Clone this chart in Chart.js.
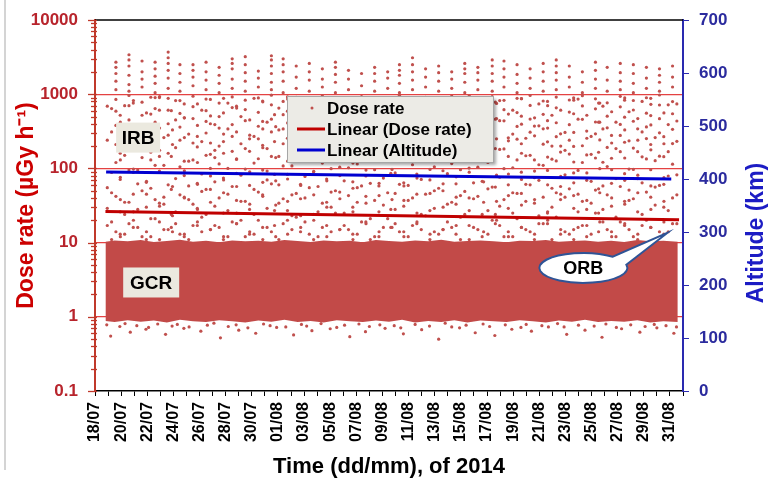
<!DOCTYPE html>
<html>
<head>
<meta charset="utf-8">
<script src="https://cdn.jsdelivr.net/npm/chart.js@4.4.1/dist/chart.umd.min.js"></script>
<style>
  body { margin: 0; background: #fff; }
  #wrap { position: relative; width: 772px; height: 484px; }
  #frame { position: absolute; left: 4px; top: 0; width: 2px; height: 470px; background: #d4d4d4; }
</style>
</head>
<body>
<div id="wrap">
  <div id="frame"></div>
  <canvas id="doseChart" width="772" height="484"></canvas>
</div>
<script>
// x axis: days since 18/07/2014 00:00
const dateLabels = ['18/07','20/07','22/07','24/07','26/07','28/07','30/07','01/08','03/08','05/08','07/08','09/08',
  '11/08','13/08','15/08','17/08','19/08','21/08','23/08','25/08','27/08','29/08','31/08'];
const doseTicks = ['0.1', '1', '10', '100', '1000', '10000'];
const altTitle = 'Altitude (km)';

// trend lines
const doseTrendDays = [0.8, 44.7];
const doseTrend = [26.3, 20.3];
const altTrendDays = [0.85, 44.1];
const altTrend = [413, 400];

// GCR band (dense dose rate points), lower and upper edges
const bandDays = [0.8, 1.5, 2.5, 3.5, 4.5, 5.5, 6.5, 7.5, 8.5, 9.5, 10.5, 11.5, 12.5, 13.5, 14.5, 15.5, 16.5, 17.5, 18.5,
  19.5, 20.5, 21.5, 22.5, 23.5, 24.5, 25.5, 26.5, 27.5, 28.5, 29.5, 30.5, 31.5, 32.5, 33.5, 34.5, 35.5, 36.5, 37.5,
  38.5, 39.5, 40.5, 41.5, 42.5, 43.5, 44.6];
const bandTop = [10.3, 10.7, 10.4, 10.8, 10.2, 10.5, 10.9, 10.3, 10.6, 10.1, 10.7, 10.4, 10.6, 10.3, 10.8, 10.5, 10.2,
  10.7, 10.4, 10.6, 10.1, 10.8, 10.5, 10.3, 10.7, 10.4, 10.9, 10.3, 10.5, 10.7, 10.4, 10.1, 10.6, 10.5, 10.8, 10.3,
  10.5, 10.7, 10.3, 10.6, 10.2, 10.8, 10.4, 10.6, 10.3];
const bandBottom = [0.88, 0.85, 0.9, 0.86, 0.89, 0.84, 0.91, 0.87, 0.85, 0.9, 0.87, 0.84, 0.89, 0.86, 0.91, 0.85, 0.88,
  0.84, 0.9, 0.87, 0.85, 0.89, 0.86, 0.91, 0.84, 0.88, 0.85, 0.9, 0.84, 0.89, 0.87, 0.85, 0.9, 0.87, 0.84, 0.89, 0.86,
  0.91, 0.85, 0.88, 0.86, 0.9, 0.84, 0.87, 0.85];

// scattered points just under the band and further below it
const fringeDays = [0.9, 1.9, 2.3, 3.2, 4.1, 4.8, 5.9, 6.3, 7.2, 8.6, 9.1, 10.2, 10.8, 11.7, 12.9, 13.4, 14.6, 15.8,
  16.2, 17.3, 18.5, 19.1, 20.2, 21.0, 21.8, 22.9, 23.4, 24.5, 25.6, 26.8, 27.3, 28.4, 29.7, 30.2, 31.4, 32.6, 33.0,
  34.2, 35.4, 35.9, 37.0, 38.2, 39.1, 39.9, 41.0, 42.1, 42.8, 43.7, 44.5];
const fringeVals = [0.78, 0.74, 0.81, 0.76, 0.72, 0.8, 0.75, 0.79, 0.73, 0.77, 0.82, 0.74, 0.78, 0.71, 0.8, 0.76, 0.73,
  0.79, 0.75, 0.81, 0.72, 0.77, 0.8, 0.74, 0.78, 0.76, 0.71, 0.79, 0.75, 0.82, 0.73, 0.77, 0.8, 0.74, 0.78, 0.72, 0.79,
  0.76, 0.81, 0.73, 0.77, 0.75, 0.8, 0.72, 0.78, 0.74, 0.79, 0.76, 0.73];
const lowDays = [1.2, 2.7, 3.9, 5.4, 6.8, 8.1, 9.6, 11.0, 12.3, 13.9, 15.2, 16.6, 18.0, 19.5, 20.7, 22.2, 23.6, 25.0,
  26.3, 27.9, 29.1, 30.6, 31.9, 33.4, 34.7, 36.1, 37.5, 38.8, 40.3, 41.7, 43.0, 44.3];
const lowVals = [0.55, 0.62, 0.68, 0.58, 0.7, 0.64, 0.52, 0.66, 0.6, 0.72, 0.57, 0.65, 0.69, 0.54, 0.63, 0.7, 0.59, 0.67,
  0.5, 0.71, 0.61, 0.56, 0.68, 0.64, 0.73, 0.58, 0.66, 0.53, 0.69, 0.62, 0.71, 0.6];

// orbit passes (IRB streaks): one per day
const peakDays = [1.6, 2.6, 3.6, 4.6, 5.6, 6.5, 7.5, 8.5, 9.5, 10.5, 11.5, 12.5, 13.5, 14.4, 15.4, 16.4, 17.4, 18.4,
  19.4, 20.4, 21.4, 22.4, 23.3, 24.3, 25.3, 26.3, 27.3, 28.3, 29.3, 30.4, 31.3, 32.3, 33.3, 34.3, 35.3, 36.3, 37.3,
  38.3, 39.2, 40.2, 41.2, 42.2, 43.2, 44.2];
const peakVals = [
  [1150, 1500, 1900, 2300, 2700], [1100, 1350, 1800, 2400, 2900, 3400], [1250, 1600, 2000, 2800],
  [1050, 1400, 1750, 2200, 2700], [1200, 1650, 2100, 2600, 3100, 3700], [1100, 1450, 1900, 2500],
  [1300, 1700, 2100, 2500], [1150, 1550, 2000, 2700], [1050, 1400, 1800, 2300], [1200, 1600, 2200, 2600, 3000],
  [1100, 1500, 1950, 2500, 3200], [1250, 1650, 2050], [1150, 1450, 1900, 2400, 2900, 3300],
  [1050, 1500, 2000, 2500, 3000], [1200, 1700, 2400], [1100, 1550, 2000, 2600], [1250, 1600, 2200],
  [1050, 1450, 1850, 2300, 2700], [1150, 1600, 2100], [1300, 1900], [1100, 1500, 1900, 2300], [1200, 1650, 2000],
  [1050, 1400, 1800, 2100, 2500], [1150, 1550, 2000, 2500, 3100], [1250, 1700, 2200], [1100, 1500, 1950, 2400],
  [1200, 1600, 2000], [1050, 1450, 1900, 2200, 2600], [1150, 1550, 1950, 2300], [1100, 1500, 1900, 2400, 2900],
  [1250, 1700, 2200, 2800], [1050, 1400, 1850, 2500], [1200, 1650, 2200], [1100, 1500, 2000, 2600],
  [1150, 1550, 1950, 2400, 2900], [1250, 1700, 2400], [1050, 1450, 2000], [1200, 1600, 2100, 2700],
  [1100, 1550, 2300], [1150, 1500, 1950, 2600], [1050, 1400, 1900, 2500], [1200, 1650, 2300],
  [1100, 1450, 1800, 2200], [1250, 1700, 2400]
];
// 10 - 1000 uGy/h points in four columns around each pass
const midD = [
  [17, 29, 55, 240, 690], [12, 38, 76, 130, 420], [20, 26, 98, 310, 820], [14, 45, 67, 210, 560],
  [11, 31, 88, 175, 350, 930], [16, 24, 52, 145, 600], [13, 40, 93, 260, 480], [19, 28, 61, 120, 380, 740],
  [15, 35, 79, 220, 510], [12, 47, 70, 160, 290, 880], [18, 25, 57, 135, 650], [14, 33, 90, 280, 450],
  [11, 42, 65, 190, 340, 790], [17, 27, 83, 230, 530], [13, 36, 72, 125, 410, 860], [16, 23, 59, 170, 300],
  [20, 44, 91, 250, 620], [12, 30, 68, 140, 380, 710], [15, 39, 80, 205, 470], [11, 26, 54, 118, 330, 900],
  [18, 34, 95, 270, 550], [14, 43, 63, 155, 360, 770], [16, 28, 86, 225, 490], [12, 37, 58, 132, 315, 840],
  [19, 25, 74, 195, 640], [13, 46, 97, 265, 430], [15, 30, 62, 150, 370, 720], [17, 41, 77, 210, 500],
  [11, 27, 89, 245, 590, 950], [14, 35, 66, 128, 320], [18, 24, 56, 185, 460, 780], [12, 43, 84, 235, 540],
  [16, 32, 71, 160, 395, 870], [13, 38, 92, 275, 480], [20, 26, 60, 142, 350, 700], [15, 45, 78, 200, 610],
  [11, 29, 64, 122, 305, 830], [17, 37, 87, 255, 520], [14, 25, 53, 165, 420, 760], [12, 40, 96, 220, 580],
  [18, 33, 69, 138, 330, 890], [13, 47, 81, 240, 470], [16, 28, 58, 178, 385, 730], [19, 36, 75, 215, 560]
];
const midA = [
  [11, 19, 47, 88, 310, 640], [13, 24, 35, 150, 205, 700], [16, 28, 62, 95, 380], [12, 21, 54, 130, 165, 540, 910],
  [15, 33, 41, 110, 260], [18, 26, 73, 190, 450, 820], [11, 38, 58, 125, 290], [14, 22, 49, 84, 230, 610],
  [17, 31, 66, 140, 175, 390], [12, 27, 45, 100, 340, 760], [20, 36, 81, 215, 500], [13, 24, 52, 118, 270, 880],
  [16, 29, 70, 92, 185, 420], [11, 34, 60, 145, 330, 650], [15, 23, 44, 108, 240], [19, 40, 78, 160, 470, 830],
  [12, 26, 57, 135, 210, 560], [14, 30, 48, 99, 300], [17, 25, 68, 170, 395, 720], [13, 35, 55, 115, 250],
  [11, 21, 63, 150, 360, 870], [16, 32, 74, 128, 225, 590], [18, 28, 46, 87, 280], [12, 37, 59, 142, 410, 780],
  [15, 24, 71, 165, 320], [14, 29, 50, 105, 195, 530], [19, 33, 85, 230, 480, 900], [11, 22, 43, 96, 265],
  [16, 39, 64, 138, 350, 700], [13, 27, 53, 120, 215], [17, 31, 76, 180, 440, 820], [12, 25, 47, 102, 290, 610],
  [15, 36, 61, 148, 255], [18, 23, 69, 112, 375, 740], [11, 30, 54, 133, 200, 520], [14, 41, 82, 175, 305],
  [16, 26, 45, 94, 460, 860], [13, 34, 67, 155, 270], [19, 28, 58, 121, 340, 690], [12, 22, 73, 185, 420],
  [15, 37, 51, 98, 235, 580], [17, 24, 64, 143, 310, 800], [11, 32, 56, 127, 260], [14, 27, 79, 168, 390, 720]
];
const midB = [
  [14, 42, 120, 210, 380, 590, 850], [18, 35, 95, 260, 450, 700, 960], [12, 50, 140, 230, 330, 520, 780],
  [21, 38, 110, 190, 420, 640, 900], [15, 60, 160, 280, 400, 610, 880], [13, 44, 105, 240, 360, 550, 820],
  [17, 33, 130, 220, 470, 680, 940], [24, 52, 150, 300, 430, 600, 860], [16, 40, 115, 200, 350, 500, 760],
  [19, 57, 170, 270, 390, 660, 920], [12, 36, 98, 185, 440, 620, 830], [20, 48, 135, 250, 370, 570, 890],
  [14, 62, 145, 310, 460, 720, 970], [18, 39, 108, 215, 340, 530, 800], [22, 46, 125, 265, 410, 650, 910],
  [13, 55, 155, 235, 385, 580, 840], [16, 34, 118, 205, 455, 690, 950], [25, 50, 140, 290, 425, 630, 870],
  [15, 43, 102, 195, 345, 510, 770], [19, 58, 165, 275, 395, 670, 930], [12, 37, 96, 180, 435, 615, 825],
  [21, 47, 132, 245, 365, 560, 885], [14, 61, 148, 305, 465, 710, 965], [17, 40, 112, 218, 338, 540, 805],
  [23, 45, 128, 262, 415, 645, 905], [13, 54, 158, 238, 380, 585, 845], [16, 35, 116, 208, 450, 685, 945],
  [24, 49, 142, 295, 428, 625, 875], [15, 42, 104, 198, 348, 515, 775], [20, 56, 162, 272, 398, 665, 925],
  [12, 38, 99, 183, 438, 618, 828], [21, 46, 130, 248, 368, 565, 880], [14, 60, 150, 308, 462, 705, 960],
  [18, 41, 110, 212, 342, 535, 810], [22, 47, 126, 268, 412, 655, 915], [13, 53, 156, 240, 388, 575, 835],
  [17, 36, 120, 202, 458, 695, 955], [25, 51, 138, 292, 422, 635, 865], [15, 44, 106, 192, 352, 505, 765],
  [19, 57, 168, 278, 392, 675, 935], [12, 39, 97, 188, 432, 612, 822], [20, 48, 134, 252, 362, 555, 895],
  [14, 59, 146, 302, 468, 715, 975], [18, 40, 114, 216, 336, 545, 795]
];
const midC = [
  [13, 26, 71, 160, 520], [16, 45, 88, 240, 350, 760], [11, 30, 65, 180, 290], [19, 34, 92, 145, 610, 900],
  [14, 23, 57, 210, 330], [12, 41, 80, 125, 480, 740], [17, 29, 63, 195, 270], [15, 52, 100, 155, 400, 850],
  [11, 25, 74, 230, 560], [18, 37, 86, 132, 310, 690], [13, 28, 59, 170, 250], [16, 44, 95, 205, 430, 810],
  [12, 32, 68, 140, 365], [20, 27, 83, 255, 590, 920], [14, 39, 61, 150, 280], [11, 24, 90, 190, 455, 770],
  [17, 35, 72, 135, 320], [15, 48, 104, 245, 500, 880], [13, 30, 66, 162, 275], [19, 42, 79, 220, 410, 730],
  [12, 26, 58, 128, 345], [16, 38, 97, 200, 530, 860], [14, 31, 64, 148, 262], [18, 45, 84, 235, 445, 790],
  [11, 27, 70, 175, 300], [15, 50, 93, 138, 415, 840], [13, 33, 62, 208, 285], [17, 40, 101, 158, 575, 910],
  [12, 24, 67, 185, 335], [20, 36, 81, 250, 470, 750], [14, 29, 60, 145, 258], [16, 46, 89, 215, 505, 870],
  [11, 34, 75, 130, 372], [18, 25, 94, 228, 440, 800], [13, 38, 57, 166, 292], [15, 43, 87, 198, 545, 890],
  [12, 28, 69, 152, 318], [19, 47, 99, 242, 420, 760], [14, 31, 63, 137, 278], [17, 36, 85, 225, 490, 830],
  [11, 26, 73, 168, 342], [16, 41, 96, 210, 515, 880], [13, 30, 61, 144, 268], [18, 44, 82, 232, 435, 740]
];

const doseColor = '#c0504d';
const bandColor = '#c24a48';
const fontFamily = '"Liberation Sans", Arial, sans-serif';

// collect the scattered dose rate points
const dots = [];
peakDays.forEach(function(d, i){
  peakVals[i].forEach(v => dots.push({x: d, y: v}));
  midB[i].forEach(v => dots.push({x: d, y: v}));
  midD[i].forEach(v => dots.push({x: d - 0.66, y: v}));
  midA[i].forEach(v => dots.push({x: d - 0.33, y: v}));
  midC[i].forEach(v => dots.push({x: d + 0.33, y: v}));
});
fringeDays.forEach((d, i) => dots.push({x: d, y: fringeVals[i]}));
lowDays.forEach((d, i) => dots.push({x: d, y: lowVals[i]}));

function isDecade(v){
  const e = Math.log10(v);
  return Math.abs(e - Math.round(e)) < 1e-6;
}

// tick positions at 1..9 of every decade
function logTickValues(){
  const vals = [];
  for(let e = -1; e <= 4; e++){
    for(let m = 1; m <= 9; m++){
      const v = Number((m * Math.pow(10, e)).toPrecision(3));
      if(v <= 10000) vals.push(v);
    }
  }
  return vals;
}

// labels, callout, legend, left ticks and right title drawn on top of the plot
const overlay = {
  id: 'overlay',
  afterDraw(chart){
    const ctx = chart.ctx;
    const x = chart.scales.x, y = chart.scales.y;
    const area = chart.chartArea;
    ctx.save();

    // top frame line
    ctx.strokeStyle = '#000';
    ctx.lineWidth = 1.5;
    ctx.beginPath();
    ctx.moveTo(area.left, area.top);
    ctx.lineTo(area.right, area.top);
    ctx.stroke();

    // left axis tick marks (long at decades)
    ctx.strokeStyle = '#c0392b';
    ctx.lineWidth = 1.3;
    logTickValues().forEach(function(v){
      const py = Math.round(y.getPixelForValue(v)) + 0.5;
      const len = isDecade(v) ? 7 : 4;
      ctx.beginPath();
      ctx.moveTo(area.left - len, py);
      ctx.lineTo(area.left + 2, py);
      ctx.stroke();
    });

    // boxed labels
    function boxLabel(text, cx, cy, w, h){
      ctx.fillStyle = '#ebe9df';
      ctx.fillRect(cx - w / 2, cy - h / 2, w, h);
      ctx.fillStyle = '#000';
      ctx.font = 'bold 19px ' + fontFamily;
      ctx.textAlign = 'center';
      ctx.textBaseline = 'middle';
      ctx.fillText(text, cx, cy + 1);
    }
    boxLabel('IRB', x.getPixelForValue(3.3), y.getPixelForValue(260), 44, 30);
    boxLabel('GCR', x.getPixelForValue(4.3), y.getPixelForValue(2.9), 56, 30);

    // ORB callout
    const tipX = x.getPixelForValue(43.8), tipY = y.getPixelForValue(13.5);
    const cx = tipX - 84, cy = tipY + 35, rx = 44, ry = 15;
    ctx.beginPath();
    ctx.ellipse(cx, cy, rx, ry, 0, -12 * Math.PI / 180, 312 * Math.PI / 180, false);
    ctx.lineTo(tipX, tipY);
    ctx.closePath();
    ctx.fillStyle = '#fff';
    ctx.fill();
    ctx.strokeStyle = '#2f5496';
    ctx.lineWidth = 2;
    ctx.stroke();
    ctx.fillStyle = '#000';
    ctx.font = 'bold 18px ' + fontFamily;
    ctx.textAlign = 'center';
    ctx.textBaseline = 'middle';
    ctx.fillText('ORB', cx, cy + 1);

    // legend
    const lx = 287, ly = 96, lw = 206, lh = 66;
    ctx.shadowColor = 'rgba(0,0,0,0.35)';
    ctx.shadowOffsetX = 3;
    ctx.shadowOffsetY = 3;
    ctx.shadowBlur = 3;
    ctx.fillStyle = '#ecebe6';
    ctx.fillRect(lx, ly, lw, lh);
    ctx.shadowColor = 'transparent';
    ctx.strokeStyle = '#a6a6a6';
    ctx.lineWidth = 1;
    ctx.strokeRect(lx + 0.5, ly + 0.5, lw, lh);

    const rows = [
      {text: 'Dose rate', type: 'dot', color: doseColor},
      {text: 'Linear (Dose rate)', type: 'line', color: '#c00000'},
      {text: 'Linear (Altitude)', type: 'line', color: '#0000d0'}
    ];
    ctx.font = 'bold 17px ' + fontFamily;
    ctx.textAlign = 'left';
    ctx.textBaseline = 'middle';
    rows.forEach(function(r, i){
      const rowY = ly + 12 + i * 21;
      if(r.type === 'dot'){
        ctx.fillStyle = r.color;
        ctx.beginPath();
        ctx.arc(lx + 25, rowY, 1.5, 0, Math.PI * 2);
        ctx.fill();
      }else{
        ctx.strokeStyle = r.color;
        ctx.lineWidth = 3;
        ctx.beginPath();
        ctx.moveTo(lx + 10, rowY);
        ctx.lineTo(lx + 38, rowY);
        ctx.stroke();
      }
      ctx.fillStyle = '#000';
      ctx.fillText(r.text, lx + 40, rowY + 1);
    });

    // right axis title, reading bottom to top
    ctx.translate(757, 233);
    ctx.rotate(-Math.PI / 2);
    ctx.fillStyle = '#1c1cc4';
    ctx.font = 'bold 23px ' + fontFamily;
    ctx.textAlign = 'center';
    ctx.textBaseline = 'middle';
    ctx.fillText(altTitle, 0, 0);
    ctx.restore();
  }
};

const chart = new Chart(document.getElementById('doseChart').getContext('2d'), {
  type: 'line',
  data: {
    datasets: [
      {
        label: 'GCR low',
        data: bandDays.map((d, i) => ({x: d, y: bandBottom[i]})),
        borderWidth: 0,
        pointRadius: 0,
        fill: false,
        order: 5
      },
      {
        label: 'GCR high',
        data: bandDays.map((d, i) => ({x: d, y: bandTop[i]})),
        borderWidth: 0,
        pointRadius: 0,
        backgroundColor: bandColor,
        fill: '-1',
        order: 5
      },
      {
        label: 'Dose rate',
        data: dots,
        showLine: false,
        pointRadius: 1.6,
        pointBorderWidth: 0,
        pointBackgroundColor: doseColor,
        order: 4
      },
      {
        label: 'Linear (Dose rate)',
        data: doseTrendDays.map((d, i) => ({x: d, y: doseTrend[i]})),
        borderColor: '#c00000',
        borderWidth: 3,
        pointRadius: 0,
        order: 2
      },
      {
        label: 'Linear (Altitude)',
        data: altTrendDays.map((d, i) => ({x: d, y: altTrend[i]})),
        borderColor: '#0000d0',
        borderWidth: 3,
        pointRadius: 0,
        yAxisID: 'y2',
        order: 1
      }
    ]
  },
  options: {
    responsive: false,
    animation: false,
    layout: { padding: { top: 20, left: 0, right: 0, bottom: 0 } },
    plugins: {
      legend: { display: false },
      tooltip: { enabled: false }
    },
    scales: {
      x: {
        type: 'linear',
        min: 0,
        max: 45,
        afterFit: s => { s.height = 93; s.paddingLeft = 0; s.paddingRight = 0; },
        border: { color: '#000', width: 1.5 },
        grid: { drawOnChartArea: false, color: '#000', tickLength: 5 },
        ticks: {
          stepSize: 1,
          autoSkip: false,
          maxRotation: 90,
          minRotation: 90,
          padding: 6,
          color: '#000',
          font: { family: fontFamily, size: 16, weight: 'bold' },
          callback: v => (Number.isInteger(v) && v % 2 === 0) ? dateLabels[v / 2] : ''
        },
        title: {
          display: true,
          text: 'Time (dd/mm), of 2014',
          color: '#000',
          padding: { top: 0, bottom: 4 },
          font: { family: fontFamily, size: 22, weight: 'bold' }
        }
      },
      y: {
        type: 'logarithmic',
        position: 'left',
        min: 0.1,
        max: 10000,
        afterFit: s => { s.width = 95; s.paddingTop = 0; s.paddingBottom = 0; },
        afterBuildTicks: s => { s.ticks = logTickValues().map(v => ({value: v})); },
        border: { color: '#c0392b', width: 2 },
        grid: {
          color: ctx => (isDecade(ctx.tick.value) && ctx.tick.value > 0.2 && ctx.tick.value < 5000) ? 'rgba(225,45,45,0.9)' : 'rgba(0,0,0,0)',
          lineWidth: 1.3,
          drawTicks: false
        },
        ticks: {
          autoSkip: false,
          padding: 17,
          color: '#b8242c',
          font: { family: fontFamily, size: 17, weight: 'bold' },
          callback: v => isDecade(v) ? doseTicks[Math.round(Math.log10(v)) + 1] : ''
        },
        title: {
          display: true,
          text: 'Dose rate (\u00b5Gy h\u207b\u00b9)',
          color: '#cc0000',
          padding: { top: 13, bottom: 0 },
          font: { family: fontFamily, size: 23, weight: 'bold' }
        }
      },
      y2: {
        type: 'linear',
        position: 'right',
        min: 0,
        max: 700,
        afterFit: s => { s.width = 89; s.paddingTop = 0; s.paddingBottom = 0; },
        border: { color: '#2a2ab0', width: 2 },
        grid: { drawOnChartArea: false, color: '#2a2ab0', tickLength: 6 },
        ticks: {
          stepSize: 100,
          padding: 10,
          color: '#2b2b9e',
          font: { family: fontFamily, size: 17, weight: 'bold' }
        }
      }
    }
  },
  plugins: [overlay]
});
</script>
</body>
</html>
